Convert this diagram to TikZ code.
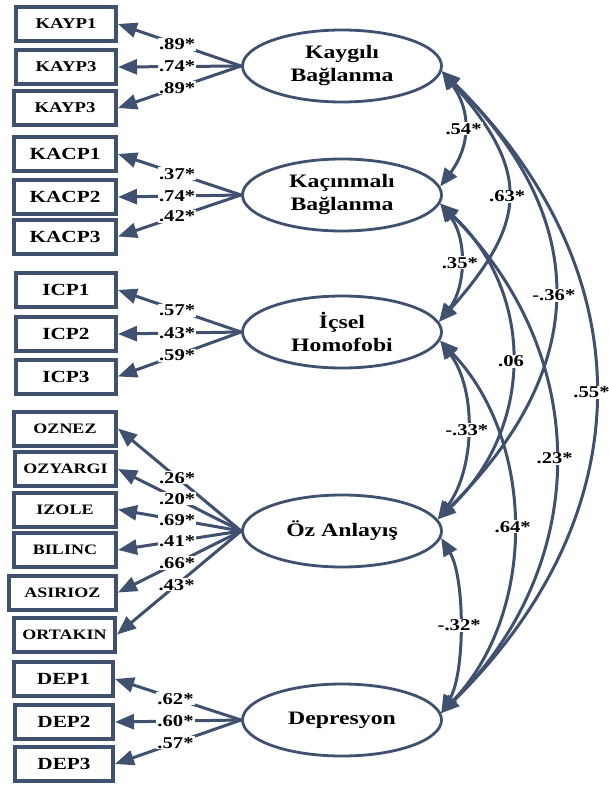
\documentclass[tikz,border=0pt]{standalone}
\usepackage{fontspec}
\setmainfont{Liberation Serif}
\newfontfamily\tnr[FakeStretch=1.25]{Liberation Serif}
\usetikzlibrary{arrows.meta,shapes.geometric}
\definecolor{semc}{RGB}{64,81,112}
\tikzset{
 lat/.style={ellipse, draw=semc, line width=2.8pt, minimum width=199pt, minimum height=72pt, inner sep=0pt, align=center, font=\tnr\bfseries\fontsize{19}{23}\selectfont},
 obs/.style={rectangle, draw=semc, line width=4pt, minimum width=100pt, minimum height=34pt, inner sep=0pt, font=\tnr\bfseries\fontsize{17}{20}\selectfont},
 obss/.style={obs, font=\tnr\bfseries\fontsize{15}{18}\selectfont},
 obsz/.style={obs, font=\tnr\bfseries\fontsize{14.4}{17}\selectfont},
 load/.style={draw=semc, line width=3pt, -{Triangle[length=19pt,width=15pt]}},
 cov/.style={draw=semc, line width=3pt, {Triangle[length=18pt,width=15pt]}-{Triangle[length=18pt,width=15pt]}},
 lbl/.style={fill=white, inner sep=1pt, text=black, font=\tnr\bfseries\fontsize{16.5}{18}\selectfont},
}
\begin{document}
\begin{tikzpicture}[x=1pt,y=-1pt]
\fill[white] (0,0) rectangle (609,787);
\useasboundingbox (0,0) rectangle (609,787);
% latent variables
\node[lat] (k1) at (342,66) {Kaygılı\\Bağlanma};
\node[lat] (k2) at (342,195) {Kaçınmalı\\Bağlanma};
\node[lat] (ih) at (342,332) {İçsel\\Homofobi};
\node[lat] (oa) at (342,531) {Öz Anlayış};
\node[lat] (dp) at (342,720) {Depresyon};
% observed variables
\node[obss, minimum width=100pt] (kayp1) at (66,24) {KAYP1};
\node[obss, minimum width=100pt] (kayp3a) at (66,67) {KAYP3};
\node[obss, minimum width=102pt] (kayp3b) at (65,108) {KAYP3};
\node[obs, minimum width=102pt] (kacp1) at (65,154) {KACP1};
\node[obs, minimum width=102pt] (kacp2) at (65,197) {KACP2};
\node[obs, minimum width=102pt] (kacp3) at (65,236.5) {KACP3};
\node[obs, minimum width=100pt] (icp1) at (66,290) {ICP1};
\node[obs, minimum width=100pt] (icp2) at (66,334) {ICP2};
\node[obs, minimum width=100pt] (icp3) at (66,376.5) {ICP3};
\node[obsz, minimum width=102pt] (oznez) at (65,428.5) {OZNEZ};
\node[obsz, minimum width=101pt] (ozyargi) at (65.5,469) {OZYARGI};
\node[obsz, minimum width=102pt] (izole) at (65,509.5) {IZOLE};
\node[obsz, minimum width=102pt] (bilinc) at (65,550) {BILINC};
\node[obsz, minimum width=107pt] (asirioz) at (62.5,592.5) {ASIRIOZ};
\node[obsz, minimum width=101pt] (ortakin) at (64.5,634.5) {ORTAKIN};
\node[obs, minimum width=99pt] (dep1) at (63.5,679) {DEP1};
\node[obs, minimum width=98pt] (dep2) at (64,722) {DEP2};
\node[obs, minimum width=98pt] (dep3) at (64,764) {DEP3};
% loadings
\draw[load] (k1.west) -- node[lbl,pos=0.52]{.89*} (kayp1.east);
\draw[load] (k1.west) -- node[lbl,pos=0.52]{.74*} (kayp3a.east);
\draw[load] (k1.west) -- node[lbl,pos=0.52]{.89*} (kayp3b.east);
\draw[load] (k2.west) -- node[lbl,pos=0.52]{.37*} (kacp1.east);
\draw[load] (k2.west) -- node[lbl,pos=0.52]{.74*} (kacp2.east);
\draw[load] (k2.west) -- node[lbl,pos=0.52]{.42*} (kacp3.east);
\draw[load] (ih.west) -- node[lbl,pos=0.52]{.57*} (icp1.east);
\draw[load] (ih.west) -- node[lbl,pos=0.52]{.43*} (icp2.east);
\draw[load] (ih.west) -- node[lbl,pos=0.52]{.59*} (icp3.east);
\draw[load] (oa.west) -- node[lbl,pos=0.52]{.26*} (oznez.east);
\draw[load] (oa.west) -- node[lbl,pos=0.52]{.20*} (ozyargi.east);
\draw[load] (oa.west) -- node[lbl,pos=0.52]{.69*} (izole.east);
\draw[load] (oa.west) -- node[lbl,pos=0.52]{.41*} (bilinc.east);
\draw[load] (oa.west) -- node[lbl,pos=0.52]{.66*} (asirioz.east);
\draw[load] (oa.west) -- node[lbl,pos=0.52]{.43*} (ortakin.east);
\draw[load] (dp.west) -- node[lbl,pos=0.52]{.62*} (dep1.east);
\draw[load] (dp.west) -- node[lbl,pos=0.52]{.60*} (dep2.east);
\draw[load] (dp.west) -- node[lbl,pos=0.52]{.57*} (dep3.east);
% covariances
\draw[cov] (k1.-3) .. controls +(204,200) and +(204,-200) .. (dp.4) node[lbl,pos=0.5,xshift=-3pt]{.55*};
\draw[cov] (k1.-3) .. controls +(152,150) and +(152,-150) .. (oa.7) node[lbl,pos=0.5]{-.36*};
\draw[cov] (k2.-5) .. controls +(152,150) and +(152,-150) .. (dp.4) node[lbl,pos=0.5]{.23*};
\draw[cov] (k1.-3) .. controls +(89,100) and +(89,-100) .. (ih.6) node[lbl,pos=0.5]{.63*};
\draw[cov] (k2.-5) .. controls +(96,90) and +(96,-90) .. (oa.7) node[lbl,pos=0.5]{.06};
\draw[cov] (ih.-5) .. controls +(96,100) and +(96,-100) .. (dp.4) node[lbl,pos=0.5]{.64*};
\draw[cov] (k1.-3) .. controls +(30,40) and +(30,-40) .. (k2.5) node[lbl,pos=0.5]{.54*};
\draw[cov] (k2.-5) .. controls +(27,35) and +(27,-35) .. (ih.6) node[lbl,pos=0.5]{.35*};
\draw[cov] (ih.-5) .. controls +(37,50) and +(37,-50) .. (oa.7) node[lbl,pos=0.5]{-.33*};
\draw[cov] (oa.-4) .. controls +(24,40) and +(24,-40) .. (dp.4) node[lbl,pos=0.5]{-.32*};
\end{tikzpicture}
\end{document}
